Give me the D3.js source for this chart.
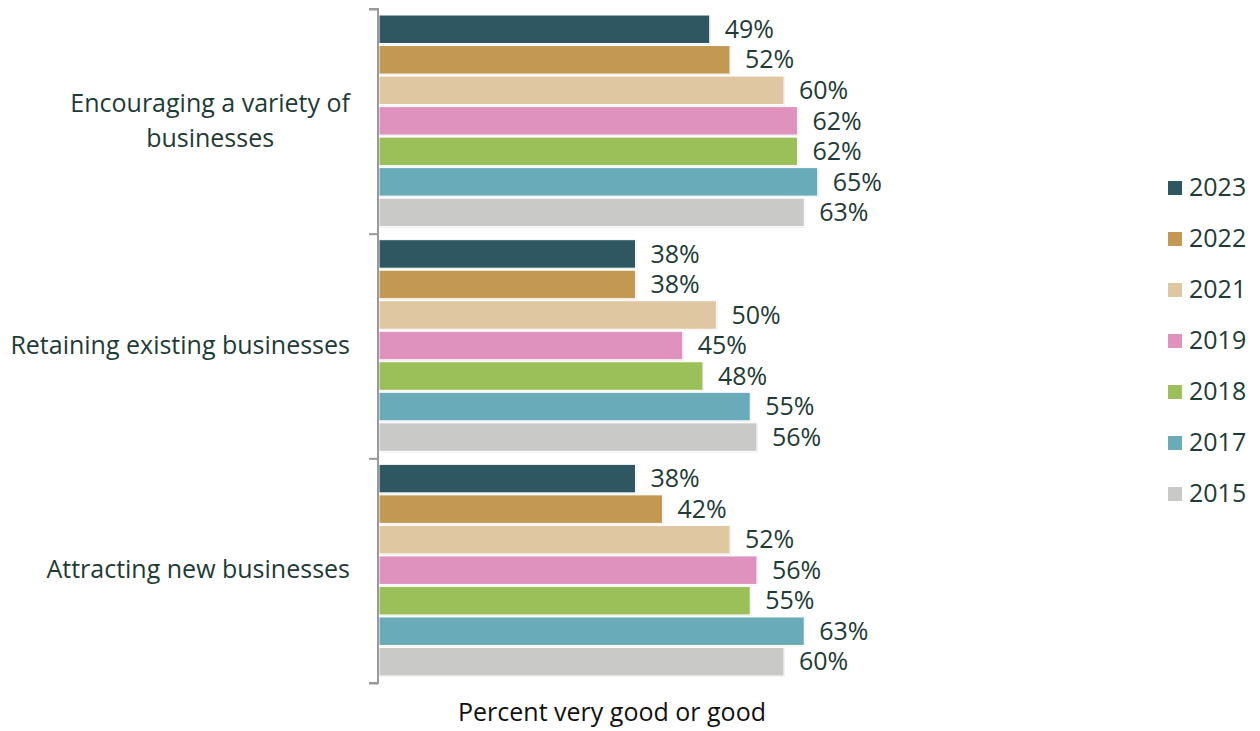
<!DOCTYPE html>
<html><head><meta charset="utf-8">
<script src="https://cdn.jsdelivr.net/npm/d3@7"></script>
<style>body{margin:0;background:#fff}svg{display:block}</style>
</head><body>
<svg id="c" width="1260" height="731"></svg>
<script>
const categories = [["Encouraging a variety of","businesses"],["Retaining existing businesses"],["Attracting new businesses"]];
const years = ["2023","2022","2021","2019","2018","2017","2015"];
const colors = ["#2e5761","#c29853","#dfc7a2","#df92bd","#9bbf59","#6aabba","#c9cac8"];
const v2023 = [49,38,38];
const v2022 = [52,38,42];
const v2021 = [60,50,52];
const v2019 = [62,45,56];
const v2018 = [62,48,55];
const v2017 = [65,55,63];
const v2015 = [63,56,60];
const seriesValues = [v2023,v2022,v2021,v2019,v2018,v2017,v2015];
const axisTitle = "Percent very good or good";

const svg = d3.select("#c");
const font = "'Open Sans', 'Noto Sans', sans-serif";
const fs = 25;
const textColor = "#1e3b36";
const x0 = 378, yTop = 9, yBottom = 683;
const x = d3.scaleLinear().domain([0,100]).range([x0+1, x0+1+675]);
const y = d3.scaleBand().domain(d3.range(categories.length)).range([yTop,yBottom]).paddingInner(0).paddingOuter(0);
const yi = d3.scaleBand().domain(d3.range(years.length)).range([6, y.bandwidth()-7]).paddingInner(0.065).paddingOuter(0);

const g = svg.append("g");
categories.forEach((cat,ci)=>{
  const gy = y(ci);
  years.forEach((yr,si)=>{
    const val = seriesValues[si][ci];
    const by = gy + yi(si);
    g.append("rect").attr("x",x(0)+1).attr("y",by+1).attr("width",x(val)-x(0)).attr("height",yi.bandwidth())
      .attr("fill","#e6e6e6");
    g.append("rect").attr("x",x(0)).attr("y",by).attr("width",x(val)-x(0)).attr("height",yi.bandwidth())
      .attr("fill",colors[si]).attr("stroke","#fff").attr("stroke-width",1);
    g.append("text").attr("x",x(val)+15).attr("y",by+yi.bandwidth()/2+2)
      .attr("dominant-baseline","middle").attr("font-family",font).attr("font-size",fs)
      .attr("fill",textColor).text(val+"%");
  });
  const lines = cat;
  const t = svg.append("text").attr("font-family",font).attr("font-size",fs).attr("fill",textColor);
  const lh = 35;
  const cy = gy + y.bandwidth()/2 + 1;
  const widths = lines.map(l=>{const tt=svg.append("text").attr("font-family",font).attr("font-size",fs).text(l);const w=tt.node().getComputedTextLength();tt.remove();return w;});
  const maxW = d3.max(widths);
  const cx = 350 - maxW/2;
  lines.forEach((l,li)=>{
    t.append("tspan").attr("x",cx).attr("text-anchor","middle")
      .attr("y",cy + (li-(lines.length-1)/2)*lh).attr("dominant-baseline","middle").text(l);
  });
});

const axis = d3.axisLeft(d3.scaleLinear().domain([0,categories.length]).range([yTop,yBottom]))
  .tickValues(d3.range(categories.length+1)).tickSize(9).tickFormat("");
const ag = svg.append("g").attr("transform",`translate(${x0},0)`).call(axis);
ag.selectAll("path,line").attr("stroke","#999").attr("stroke-width",2);
ag.select("path").attr("d",`M-9,${yTop}H0V${yBottom}H-9`);

svg.append("text").attr("x",612).attr("y",714).attr("text-anchor","middle").attr("dominant-baseline","middle")
  .attr("font-family",font).attr("font-size",fs).attr("fill","#111").text(axisTitle);

const lg = svg.append("g");
years.forEach((yr,i)=>{
  const ly = 188 + i*51;
  lg.append("rect").attr("x",1168).attr("y",ly-7).attr("width",14).attr("height",14).attr("fill",colors[i]);
  lg.append("text").attr("x",1189).attr("y",ly+1).attr("dominant-baseline","middle")
    .attr("font-family",font).attr("font-size",fs).attr("fill",textColor).text(yr);
});
</script>
</body></html>
